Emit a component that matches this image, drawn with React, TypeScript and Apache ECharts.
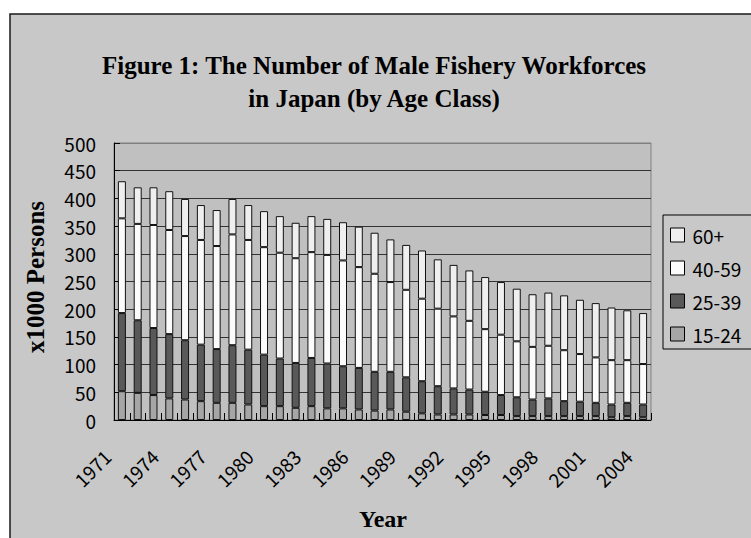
import React, { useEffect, useRef } from "react";
import * as echarts from "echarts";

// Survey years on the category axis
const years: string[] = [
  "1971", "1972", "1973", "1974", "1975", "1976", "1977", "1978", "1979", "1980",
  "1981", "1982", "1983", "1984", "1985", "1986", "1987", "1988", "1989", "1990",
  "1991", "1992", "1993", "1994", "1995", "1996", "1997", "1998", "1999", "2000",
  "2001", "2002", "2003", "2004",
];

// Male fishery workers, thousands of persons, by age class
const age15to24: number[] = [
  52, 49, 45, 39, 37, 34, 31, 31, 28, 25, 25, 22, 25, 21, 21, 19, 17, 19, 15, 12,
  10, 10, 10, 9, 9, 7, 7, 7, 7, 7, 7, 5, 7, 5,
];
const age25to39: number[] = [
  141, 131, 121, 116, 107, 102, 97, 104, 99, 93, 86, 81, 87, 81, 76, 75, 70, 68, 62, 58,
  51, 47, 45, 42, 36, 34, 30, 32, 27, 26, 24, 23, 24, 23,
];
const age40to59: number[] = [
  171, 174, 186, 188, 188, 189, 186, 200, 198, 194, 191, 189, 191, 196, 191, 182, 177, 162, 158, 149,
  140, 130, 124, 113, 109, 101, 95, 95, 92, 86, 82, 80, 77, 73,
];
const age60plus: number[] = [
  67, 66, 68, 70, 67, 63, 65, 64, 63, 65, 66, 64, 65, 65, 69, 73, 74, 77, 81, 87,
  89, 93, 91, 94, 95, 95, 95, 96, 99, 98, 98, 95, 90, 92,
];

const seriesNames = ["15-24", "25-39", "40-59", "60+"];
const seriesColors = ["#a6a6a6", "#595959", "#fbfbfb", "#efefef"];
const seriesData = [age15to24, age25to39, age40to59, age60plus];

const yTicks = { min: 0, max: 500, interval: 50 };

const titleText = "Figure 1: The Number of Male Fishery Workforces\nin Japan (by Age Class)";
const yName = "x1000 Persons";
const xName = "Year";

const SANS = '"Noto Sans CJK JP", "Liberation Sans", sans-serif';
const SERIF = '"Liberation Serif", "DejaVu Serif", serif';

export default function App() {
  const ref = useRef<HTMLDivElement>(null);

  useEffect(() => {
    document.body.style.margin = "0";
    if (!ref.current) return;
    const chart = echarts.init(ref.current, null, { renderer: "svg" });

    // Horizontal rules are dark; the top one doubles as the plot frame
    const gridColors = [
      "#333333", "#333333", "#333333", "#333333", "#333333", "#333333",
      "#333333", "#333333", "#333333", "#333333", "#808080",
    ];

    chart.setOption({
      animation: false,
      backgroundColor: "#ffffff",
      title: {
        text: titleText,
        left: 374,
        top: 49,
        textAlign: "center",
        padding: 0,
        textStyle: {
          fontFamily: SERIF,
          fontWeight: "bold",
          fontSize: 25,
          lineHeight: 33,
          color: "#000",
        },
      },
      graphic: [
        {
          type: "rect",
          z: -100,
          silent: true,
          shape: { x: 10, y: 14, width: 800, height: 600 },
          style: { fill: "#c8c8c8", stroke: "#1a1a1a", lineWidth: 1.5 },
        },
        {
          type: "rect",
          z: -50,
          silent: true,
          shape: { x: 663, y: 215, width: 120, height: 134 },
          style: { fill: "none", stroke: "#000", lineWidth: 1 },
        },
        {
          type: "text",
          x: 35,
          y: 277,
          rotation: Math.PI / 2,
          style: {
            text: yName,
            font: `bold 25px ${SERIF}`,
            align: "center",
            verticalAlign: "middle",
            fill: "#000",
          },
        },
        {
          type: "text",
          x: 383,
          y: 519,
          style: {
            text: xName,
            font: `bold 24px ${SERIF}`,
            align: "center",
            verticalAlign: "middle",
            fill: "#000",
          },
        },
      ],
      legend: {
        orient: "vertical",
        left: 670,
        top: 225,
        padding: 0,
        itemWidth: 14,
        itemHeight: 14,
        itemGap: 13,
        icon: "rect",
        data: ["60+", "40-59", "25-39", "15-24"],
        itemStyle: { borderColor: "#000", borderWidth: 1 },
        textStyle: {
          fontFamily: SANS,
          fontSize: 19,
          lineHeight: 20,
          color: "#000",
          padding: [0, 0, 0, 3],
        },
      },
      grid: {
        left: 114,
        top: 143,
        width: 537,
        height: 277,
        show: true,
        backgroundColor: "#c0c0c0",
        borderColor: "#808080",
        borderWidth: 1,
      },
      xAxis: {
        type: "category",
        data: years,
        axisLine: { show: true, lineStyle: { color: "#000", width: 1 } },
        axisTick: {
          show: true,
          inside: true,
          length: 7,
          interval: 0,
          lineStyle: { color: "#000" },
        },
        axisLabel: {
          interval: 2,
          rotate: 45,
          margin: 18,
          padding: [0, 21, 0, 0],
          fontFamily: SANS,
          fontSize: 19,
          color: "#000",
        },
        splitLine: { show: false },
      },
      yAxis: {
        type: "value",
        min: yTicks.min,
        max: yTicks.max,
        interval: yTicks.interval,
        axisLine: { show: true, lineStyle: { color: "#000", width: 1 } },
        axisTick: { show: true, inside: true, length: 6, lineStyle: { color: "#000" } },
        axisLabel: {
          margin: 18,
          fontFamily: SANS,
          fontSize: 19,
          color: "#000",
        },
        splitLine: { show: true, lineStyle: { color: gridColors, width: 1 } },
      },
      series: seriesNames.map((name, i) => ({
        name,
        type: "bar",
        stack: "workers",
        barWidth: 8,
        data: seriesData[i],
        itemStyle: {
          color: seriesColors[i],
          borderColor: "#111",
          borderWidth: 1,
        },
      })),
    });

    return () => chart.dispose();
  }, []);

  return <div ref={ref} style={{ width: 751, height: 538 }} />;
}
